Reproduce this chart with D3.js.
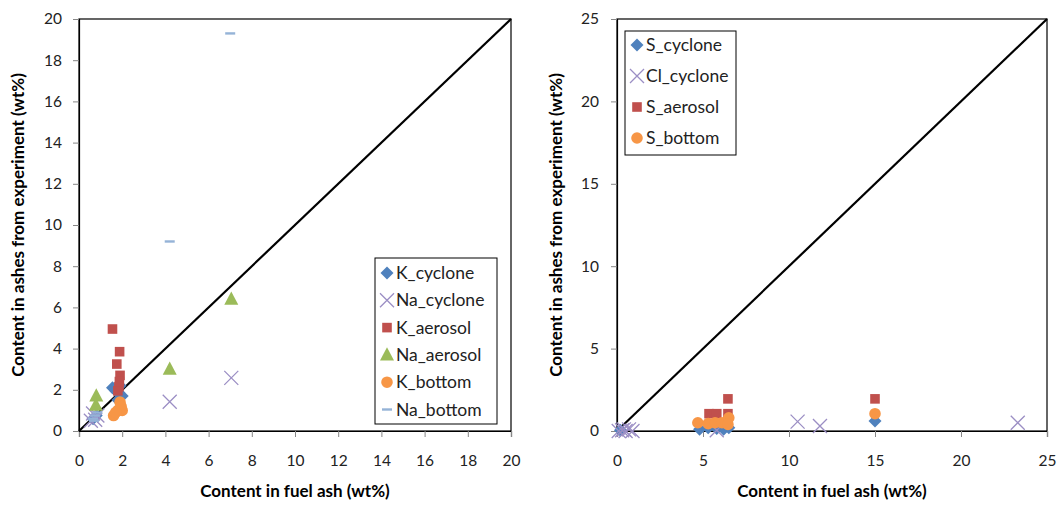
<!DOCTYPE html>
<html>
<head>
<meta charset="utf-8">
<script src="https://cdn.jsdelivr.net/npm/d3@7"></script>
<style>
  body { margin: 0; background: #fff; }
  svg { display: block; font-family: Lato, "Open Sans", "Liberation Sans", sans-serif; }
</style>
</head>
<body>
<svg id="chart" width="1059" height="505"></svg>
<script>
// ---- Left panel: K and Na ----
const kCycloneFuel   = [1.55, 1.7, 1.85, 2.0, 1.8, 1.9, 0.65, 0.8];
const kCycloneAsh    = [2.1, 1.95, 1.85, 1.7, 1.5, 2.2, 0.6, 0.75];
const naCycloneFuel  = [4.2, 7.05, 0.55, 0.75, 0.85, 0.65];
const naCycloneAsh   = [1.42, 2.58, 0.5, 0.55, 0.75, 0.85];
const kAerosolFuel   = [1.55, 1.88, 1.75, 1.9, 1.87, 1.85, 1.8];
const kAerosolAsh    = [4.95, 3.85, 3.25, 2.7, 2.4, 2.15, 1.95];
const naAerosolFuel  = [0.8, 0.78, 4.2, 7.05];
const naAerosolAsh   = [1.7, 1.25, 3.0, 6.4];
const kBottomFuel    = [1.9, 1.8, 1.6, 2.0, 1.95, 1.7];
const kBottomAsh     = [1.4, 1.0, 0.75, 1.0, 1.2, 0.9];
const naBottomFuel   = [7.0, 4.2, 0.65, 0.75, 0.85, 0.7];
const naBottomAsh    = [19.3, 9.2, 0.6, 0.75, 0.9, 0.5];

// ---- Right panel: S and Cl ----
const sCycloneFuel   = [0.2, 4.8, 5.3, 5.8, 6.2, 6.5, 15.0];
const sCycloneAsh    = [0.05, 0.1, 0.2, 0.15, 0.1, 0.2, 0.6];
const clCycloneFuel  = [0.1, 0.3, 0.5, 0.7, 0.9, 0.4, 5.8, 10.5, 11.8, 23.3];
const clCycloneAsh   = [0.0, 0.05, 0.0, 0.1, 0.0, 0.1, 0.05, 0.57, 0.3, 0.5];
const sAerosolFuel   = [5.35, 5.8, 6.45, 6.45, 15.0];
const sAerosolAsh    = [1.05, 1.05, 1.05, 1.95, 1.95];
const sBottomFuel    = [4.7, 5.3, 5.7, 6.1, 6.5, 6.45, 15.0];
const sBottomAsh     = [0.5, 0.45, 0.5, 0.5, 0.8, 0.4, 1.05];

const leftTicks  = [0, 2, 4, 6, 8, 10, 12, 14, 16, 18, 20];
const rightTicks = [0, 5, 10, 15, 20, 25];

const xTitle = "Content in fuel ash (wt%)";
const yTitle = "Content in ashes from experiment (wt%)";

const zip = (xs, ys) => xs.map((x, i) => ({ x, y: ys[i] }));

const styles = {
  diamond:  { fill: "#4f81bd" },
  cross:    { stroke: "#9b8ec4" },
  square:   { fill: "#c0504d" },
  triangle: { fill: "#9bbb59" },
  circle:   { fill: "#f79646" },
  dash:     { fill: "#95b3d7" }
};

// marker shapes centred on 0,0
function markerPath(shape, s) {
  switch (shape) {
    case "diamond":  return `M0,${-s}L${s},0L0,${s}L${-s},0Z`;
    case "square":   return `M${-s},${-s}H${s}V${s}H${-s}Z`;
    case "triangle": return `M0,${-s * 1.1}L${s},${s * 0.8}L${-s},${s * 0.8}Z`;
    case "cross":    return `M${-s},${-s}L${s},${s}M${-s},${s}L${s},${-s}`;
    case "dash":     return `M${-s},-1.2H${s}V1.2H${-s}Z`;
    case "circle":   return d3.arc()({ innerRadius: 0, outerRadius: s, startAngle: 0, endAngle: 2 * Math.PI });
  }
}
const markerSize = { diamond: 6.5, square: 4.8, triangle: 7, cross: 7, dash: 5, circle: 5.8 };

function drawMarker(g, shape, x, y) {
  const p = g.append("path")
    .attr("d", markerPath(shape, markerSize[shape]))
    .attr("transform", `translate(${x},${y})`);
  if (shape === "cross") p.attr("fill", "none").attr("stroke", styles.cross.stroke).attr("stroke-width", 1.3);
  else p.attr("fill", styles[shape].fill);
}

const svg = d3.select("#chart");

function panel(cfg) {
  const g = svg.append("g");
  const x = d3.scaleLinear().domain([0, cfg.max]).range([cfg.left, cfg.right]);
  const y = d3.scaleLinear().domain([0, cfg.max]).range([cfg.bottom, cfg.top]);

  // plot frame
  g.append("rect")
    .attr("x", cfg.left).attr("y", cfg.top)
    .attr("width", cfg.right - cfg.left).attr("height", cfg.bottom - cfg.top)
    .attr("fill", "none").attr("stroke", "#000").attr("stroke-width", 1.2);

  // axes
  const xa = g.append("g").attr("transform", `translate(0,${cfg.bottom})`)
    .call(d3.axisBottom(x).tickValues(cfg.ticks).tickSize(6).tickPadding(cfg.xPad).tickFormat(d3.format("d")));
  const ya = g.append("g").attr("transform", `translate(${cfg.left},0)`)
    .call(d3.axisLeft(y).tickValues(cfg.ticks).tickSize(6).tickPadding(cfg.yPad).tickFormat(d3.format("d")));
  [xa, ya].forEach(a => {
    a.select(".domain").attr("stroke", "#000").attr("stroke-width", 1.2);
    a.selectAll(".tick line").attr("stroke", "#868686");
    a.selectAll(".tick text").attr("font-size", 15.5).attr("fill", "#222")
      .attr("font-family", "Lato, 'Open Sans', sans-serif");
  });

  // 1:1 line
  g.append("line")
    .attr("x1", x(0)).attr("y1", y(0)).attr("x2", x(cfg.max)).attr("y2", y(cfg.max))
    .attr("stroke", "#000").attr("stroke-width", 2.2);

  // series
  cfg.series.forEach(s => {
    const sg = g.append("g");
    s.data.forEach(d => drawMarker(sg, s.shape, x(d.x), y(d.y)));
  });

  // axis titles
  g.append("text")
    .attr("x", (cfg.left + cfg.right) / 2).attr("y", cfg.xTitleY)
    .attr("text-anchor", "middle").attr("font-size", 17).attr("font-weight", "bold")
    .text(xTitle);
  g.append("text")
    .attr("transform", `translate(${cfg.yTitleX},${(cfg.top + cfg.bottom) / 2}) rotate(-90)`)
    .attr("text-anchor", "middle").attr("font-size", 17).attr("font-weight", "bold")
    .text(yTitle);

  // legend
  const L = cfg.legend;
  const lg = g.append("g");
  lg.append("rect")
    .attr("x", L.x).attr("y", L.y).attr("width", L.w).attr("height", L.h)
    .attr("fill", "#fff").attr("stroke", "#000").attr("stroke-width", 1);
  cfg.series.forEach((s, i) => {
    const cy = L.y + L.first + i * L.step;
    drawMarker(lg, s.shape, L.x + 12, cy);
    lg.append("text")
      .attr("x", L.x + 21).attr("y", cy).attr("dy", "0.35em")
      .attr("font-size", 17.5).attr("fill", "#222")
      .text(s.name);
  });
}

panel({
  max: 20, left: 79, right: 511, top: 19, bottom: 431,
  ticks: leftTicks, xPad: 18, yPad: 11, xTitleY: 497, yTitleX: 24,
  series: [
    { name: "K_cyclone",  shape: "diamond",  data: zip(kCycloneFuel, kCycloneAsh) },
    { name: "Na_cyclone", shape: "cross",    data: zip(naCycloneFuel, naCycloneAsh) },
    { name: "K_aerosol",  shape: "square",   data: zip(kAerosolFuel, kAerosolAsh) },
    { name: "Na_aerosol", shape: "triangle", data: zip(naAerosolFuel, naAerosolAsh) },
    { name: "K_bottom",   shape: "circle",   data: zip(kBottomFuel, kBottomAsh) },
    { name: "Na_bottom",  shape: "dash",     data: zip(naBottomFuel, naBottomAsh) }
  ],
  legend: { x: 375, y: 258, w: 122, h: 166, first: 15, step: 27.3 }
});

panel({
  max: 25, left: 617, right: 1047, top: 19, bottom: 431,
  ticks: rightTicks, xPad: 18, yPad: 12, xTitleY: 497, yTitleX: 562,
  series: [
    { name: "S_cyclone",  shape: "diamond",  data: zip(sCycloneFuel, sCycloneAsh) },
    { name: "Cl_cyclone", shape: "cross",    data: zip(clCycloneFuel, clCycloneAsh) },
    { name: "S_aerosol",  shape: "square",   data: zip(sAerosolFuel, sAerosolAsh) },
    { name: "S_bottom",   shape: "circle",   data: zip(sBottomFuel, sBottomAsh) }
  ],
  legend: { x: 625, y: 31, w: 111, h: 124, first: 14, step: 31 }
});
</script>
</body>
</html>
